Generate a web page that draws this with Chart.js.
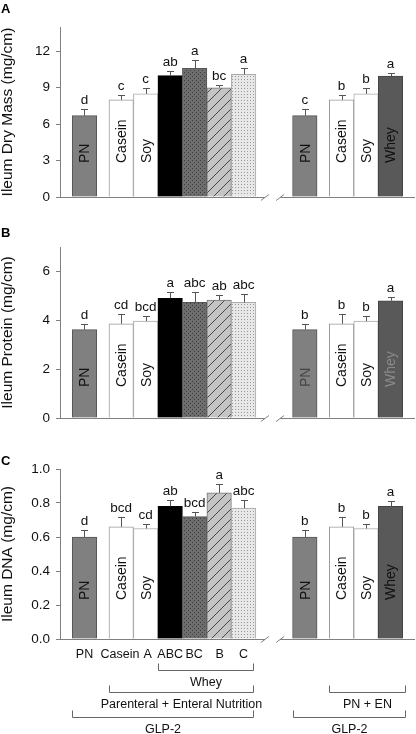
<!DOCTYPE html>
<html>
<head>
<meta charset="utf-8">
<script src="https://cdn.jsdelivr.net/npm/chart.js@4.4.0/dist/chart.umd.min.js"></script>
<style>
  html, body { margin: 0; padding: 0; background: #fff; }
  body { width: 416px; height: 734px; position: relative; overflow: hidden; }
  .panel { position: absolute; left: 0; width: 416px; }
</style>
</head>
<body>
<div class="panel" style="top:0;height:225px"><canvas id="chartA"></canvas></div>
<div class="panel" style="top:225px;height:225px"><canvas id="chartB"></canvas></div>
<div class="panel" style="top:450px;height:284px"><canvas id="chartC"></canvas></div>
<script>
// groups: PN alone, then PN+EN (casein, soy, whey fractions), break, right-hand PN / PN+EN
const categories = ['PN', 'Casein', 'Soy', 'ABC', 'BC', 'B', 'C', 'PN', 'Casein', 'Soy', 'Whey'];
const slots = [0, 1.5, 2.5, 3.5, 4.5, 5.5, 6.5, 9, 10.5, 11.5, 12.5];
const barLabels = ['PN', 'Casein', 'Soy', '', '', '', '', 'PN', 'Casein', 'Soy', 'Whey'];

const dryMass = [6.7, 8.0, 8.5, 10.0, 10.6, 9.0, 10.1, 6.7, 8.0, 8.5, 9.95];
const dryMassErr = [0.55, 0.4, 0.45, 0.4, 0.65, 0.2, 0.5, 0.55, 0.4, 0.45, 0.25];
const dryMassLetters = ['d', 'c', 'c', 'ab', 'a', 'bc', 'a', 'c', 'b', 'b', 'a'];
const dryMassTicks = [0, 3, 6, 9, 12];

const protein = [3.62, 3.86, 3.97, 4.9, 4.73, 4.83, 4.73, 3.62, 3.86, 3.97, 4.8];
const proteinErr = [0.24, 0.41, 0.22, 0.26, 0.41, 0.19, 0.33, 0.24, 0.41, 0.22, 0.15];
const proteinLetters = ['d', 'cd', 'bcd', 'a', 'abc', 'ab', 'abc', 'b', 'b', 'b', 'a'];
const proteinTicks = [0, 2, 4, 6];

const dna = [0.60, 0.66, 0.65, 0.78, 0.72, 0.86, 0.77, 0.60, 0.66, 0.65, 0.78];
const dnaErr = [0.04, 0.06, 0.025, 0.04, 0.03, 0.05, 0.05, 0.04, 0.06, 0.025, 0.03];
const dnaLetters = ['d', 'bcd', 'cd', 'ab', 'bcd', 'a', 'abc', 'b', 'b', 'b', 'a'];
const dnaTicks = [0, 0.2, 0.4, 0.6, 0.8, 1.0];

const xTickSlots = [0, 1.45, 2.58, 3.5, 4.48, 5.52, 6.5];
const xTickLabels = ['PN', 'Casein', 'A', 'ABC', 'BC', 'B', 'C'];

const bracketText = ['Whey', 'Parenteral + Enteral Nutrition', 'GLP-2', 'PN + EN', 'GLP-2'];
const bracketFrom = [3.0, 1.0, -0.5, 10.0, 8.5];
const bracketTo = [6.87, 6.87, 6.87, 13.1, 13.1];
const bracketRow = [0, 1, 2, 1, 2];

Chart.defaults.font.family = '"Liberation Sans", Arial, Helvetica, sans-serif';
Chart.defaults.color = '#111';

function tile(w, h, bg, draw) {
  const c = document.createElement('canvas');
  c.width = w; c.height = h;
  const g = c.getContext('2d');
  g.fillStyle = bg; g.fillRect(0, 0, w, h);
  draw(g);
  return c;
}

function fillsFor(ctx) {
  const dotsDark = ctx.createPattern(tile(4, 4, '#6e6e6e', g => {
    g.fillStyle = '#3c3c3c'; g.fillRect(0, 0, 1, 1); g.fillRect(2, 2, 1, 1);
  }), 'repeat');
  const hatch = ctx.createPattern(tile(10, 10, '#c4c4c4', g => {
    g.strokeStyle = '#3a3a3a'; g.lineWidth = 0.9;
    g.beginPath(); g.moveTo(-1, 11); g.lineTo(11, -1); g.stroke();
  }), 'repeat');
  const dotsLight = ctx.createPattern(tile(3, 3, '#e8e8e8', g => {
    g.fillStyle = '#9a9a9a'; g.fillRect(1, 1, 1, 1);
  }), 'repeat');
  return ['#808080', '#ffffff', '#ffffff', '#000000', dotsDark, hatch, dotsLight,
          '#808080', '#ffffff', '#ffffff', '#595959'];
}
const borders = ['#555', '#999', '#aaa', '#000', '#555', '#777', '#aaa', '#555', '#999', '#aaa', '#444'];

const extras = {
  id: 'extras',
  afterDatasetsDraw(chart, args, o) {
    const { ctx, chartArea: ca, scales: { x, y } } = chart;
    const meta = chart.getDatasetMeta(0);
    const base = Math.round(ca.bottom) + 0.5;
    ctx.save();
    ctx.lineWidth = 1;

    // broken baseline
    const b1 = x.getPixelForValue(7.37), b2 = x.getPixelForValue(7.99);
    ctx.strokeStyle = '#808080';
    ctx.beginPath();
    ctx.moveTo(ca.left, base); ctx.lineTo(b1, base);
    ctx.moveTo(b2, base); ctx.lineTo(ca.right, base);
    [b1, b2].forEach(bx => { ctx.moveTo(bx - 4, base + 3); ctx.lineTo(bx + 4, base - 3); });
    ctx.stroke();

    // error bars + letters + inner labels
    meta.data.forEach((bar, i) => {
      const v = o.values[i], e = o.errors[i];
      const top = Math.round(y.getPixelForValue(v + e)) + 0.5;
      const bx = Math.round(bar.x) + 0.5;
      ctx.strokeStyle = '#555';
      ctx.beginPath();
      ctx.moveTo(bx, bar.y); ctx.lineTo(bx, top);
      ctx.moveTo(bx - 3.5, top); ctx.lineTo(bx + 3.5, top);
      ctx.stroke();

      ctx.fillStyle = '#111';
      ctx.font = '13.5px "Liberation Sans", Arial, sans-serif';
      ctx.textAlign = 'center';
      ctx.textBaseline = 'bottom';
      ctx.fillText(o.letters[i], bar.x, top - 2);

      if (barLabels[i]) {
        ctx.save();
        ctx.translate(bar.x + 1, ca.bottom - o.labelOffset);
        ctx.rotate(-Math.PI / 2);
        ctx.font = '14px "Liberation Sans", Arial, sans-serif';
        ctx.textAlign = 'left';
        ctx.textBaseline = 'middle';
        ctx.fillStyle = (o.labelColors && o.labelColors[i]) || '#111';
        ctx.fillText(barLabels[i], 0, 0);
        ctx.restore();
      }
    });

    // panel letter
    ctx.fillStyle = '#000';
    ctx.font = 'bold 13px "Liberation Sans", Arial, sans-serif';
    ctx.textAlign = 'left';
    ctx.textBaseline = 'middle';
    ctx.fillText(o.panel, 1, o.panelY);

    // group brackets under panel C
    if (o.brackets) {
      const rowY = [31, 53, 78];
      ctx.strokeStyle = '#666';
      ctx.fillStyle = '#111';
      ctx.font = '12.5px "Liberation Sans", Arial, sans-serif';
      ctx.textAlign = 'center';
      ctx.textBaseline = 'middle';
      bracketText.forEach((t, i) => {
        const ly = Math.round(ca.bottom + rowY[bracketRow[i]]) + 0.5;
        const x1 = Math.round(x.getPixelForValue(bracketFrom[i])) + 0.5;
        const x2 = Math.round(x.getPixelForValue(bracketTo[i])) + 0.5;
        ctx.beginPath();
        ctx.moveTo(x1, ly - 7); ctx.lineTo(x1, ly); ctx.lineTo(x2, ly); ctx.lineTo(x2, ly - 7);
        ctx.stroke();
        ctx.fillText(t, (x1 + x2) / 2, ly + 12);
      });
    }
    ctx.restore();
  }
};

function makePanel(id, cfg) {
  const canvas = document.getElementById(id);
  const ctx = canvas.getContext('2d');
  const fills = fillsFor(ctx);
  return new Chart(ctx, {
    type: 'bar',
    data: {
      labels: categories,
      datasets: [{
        data: cfg.values.map((v, i) => ({ x: slots[i], y: v })),
        backgroundColor: fills,
        borderColor: borders,
        borderWidth: 1,
        barThickness: 24.5,
        borderSkipped: 'bottom'
      }]
    },
    options: {
      responsive: true,
      maintainAspectRatio: false,
      animation: false,
      layout: { padding: { top: cfg.top, right: 1, left: 0, bottom: 0 } },
      plugins: {
        legend: { display: false },
        tooltip: { enabled: false },
        extras: cfg
      },
      scales: {
        x: {
          type: 'linear',
          min: -1,
          max: 13.5,
          offset: false,
          grid: { display: false, drawTicks: false },
          border: { display: false },
          afterFit: s => { s.height = cfg.bottom; },
          afterBuildTicks: s => { s.ticks = xTickSlots.map(v => ({ value: v })); },
          ticks: {
            display: !!cfg.brackets,
            autoSkip: false,
            maxRotation: 0,
            padding: 8,
            font: { size: 12.5 },
            callback: (v, i) => xTickLabels[i]
          }
        },
        y: {
          min: 0,
          max: cfg.max,
          afterFit: s => { s.width = 60; },
          afterBuildTicks: s => { s.ticks = cfg.ticks.map(v => ({ value: v })); },
          grid: { drawOnChartArea: false, tickLength: 4, color: '#808080' },
          border: { color: '#808080' },
          ticks: {
            padding: 6,
            font: { size: 13.5 },
            callback: v => cfg.decimals ? v.toFixed(cfg.decimals) : v
          },
          title: {
            display: true,
            text: cfg.title,
            padding: 0,
            font: { size: 15.5, lineHeight: 1 }
          }
        }
      }
    },
    plugins: [extras]
  });
}

makePanel('chartA', {
  panel: 'A', panelY: 9, top: 27, bottom: 28, max: 14, ticks: dryMassTicks,
  title: 'Ileum Dry Mass (mg/cm)', values: dryMass, errors: dryMassErr,
  letters: dryMassLetters, labelOffset: 34
});
makePanel('chartB', {
  panel: 'B', panelY: 8, top: 22, bottom: 32, max: 7, ticks: proteinTicks,
  title: 'Ileum Protein (mg/cm)', values: protein, errors: proteinErr,
  letters: proteinLetters, labelOffset: 31,
  labelColors: [null, null, null, null, null, null, null, '#444', null, null, '#8a8a8a']
});
makePanel('chartC', {
  panel: 'C', panelY: 11, top: 19, bottom: 95, max: 1.0, ticks: dnaTicks, decimals: 1,
  title: 'Ileum DNA (mg/cm)', values: dna, errors: dnaErr,
  letters: dnaLetters, labelOffset: 39, brackets: true
});
</script>
</body>
</html>
